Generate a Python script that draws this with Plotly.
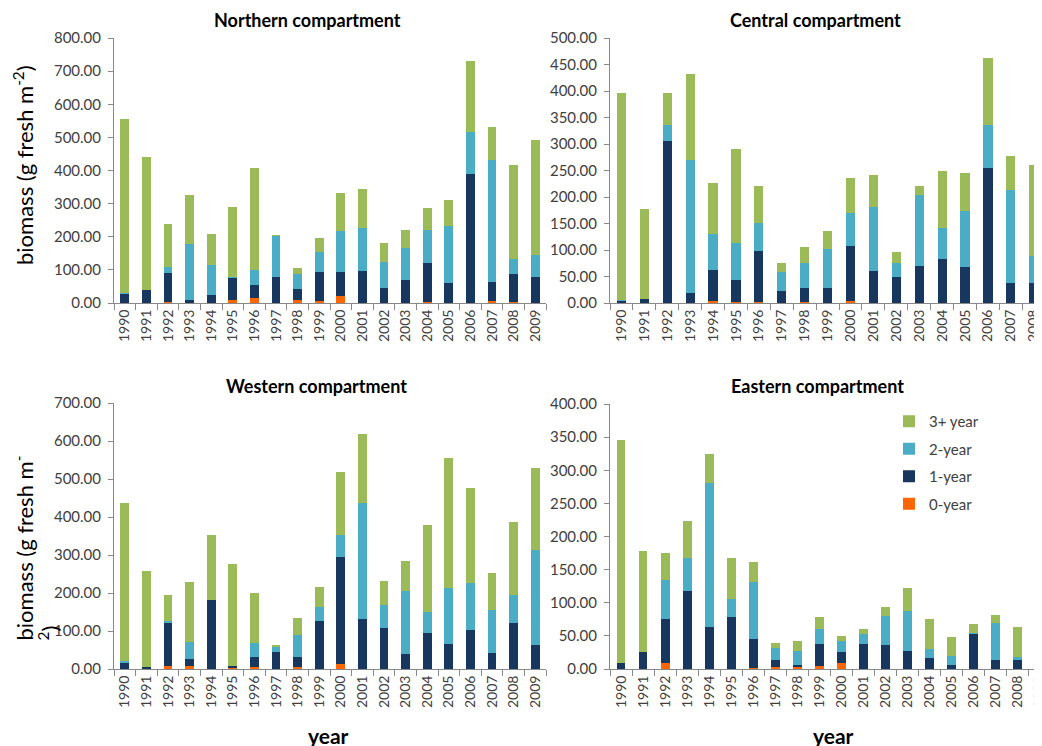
import plotly.graph_objects as go

years = [str(y) for y in range(1990, 2010)]
years_central = years[:19]

series_names = ["0-year", "1-year", "2-year", "3+ year"]
series_colors = ["#FF6600", "#17375E", "#4BACC6", "#9BBB59"]

# Northern compartment
north_0 = [0, 0, 2, 0, 0, 9, 16, 0, 8, 5, 20, 0, 0, 0, 3, 0, 0, 5, 3, 0]
north_1 = [28, 40, 88, 10, 25, 68, 38, 79, 35, 89, 74, 97, 46, 70, 119, 61, 390, 59, 86, 78]
north_2 = [1, 0, 19, 169, 89, 1, 46, 124, 46, 60, 122, 130, 78, 96, 98, 170, 125, 369, 45, 66]
north_3 = [525, 400, 131, 146, 93, 212, 307, 2, 16, 43, 116, 118, 57, 53, 66, 79, 216, 98, 284, 349]

# Central compartment (2009 lies outside the picture)
central_0 = [0, 0, 0, 0, 3, 1, 1, 0, 1, 0, 4, 0, 0, 0, 0, 0, 0, 0, 0]
central_1 = [5, 8, 305, 18, 60, 42, 97, 22, 28, 28, 104, 60, 50, 70, 83, 68, 255, 37, 37]
central_2 = [1, 0, 30, 252, 68, 70, 53, 37, 47, 73, 62, 121, 25, 133, 59, 105, 81, 177, 51]
central_3 = [391, 169, 61, 163, 95, 177, 70, 16, 30, 35, 65, 60, 21, 18, 108, 73, 127, 63, 172]

# Western compartment
west_0 = [0, 0, 7, 8, 0, 4, 6, 0, 4, 0, 13, 0, 0, 0, 0, 0, 0, 0, 0, 0]
west_1 = [18, 6, 114, 19, 182, 3, 26, 46, 28, 126, 283, 132, 108, 39, 96, 66, 103, 41, 121, 62]
west_2 = [2, 0, 6, 45, 0, 0, 36, 12, 58, 37, 56, 305, 61, 165, 55, 146, 123, 114, 74, 252]
west_3 = [417, 251, 69, 157, 170, 269, 132, 3, 44, 52, 167, 182, 63, 81, 229, 343, 251, 97, 192, 215]

# Eastern compartment
east_0 = [0, 0, 9, 0, 0, 0, 2, 3, 2.5, 5, 9, 0, 0, 0, 0, 0, 0, 0, 0, 0]
east_1 = [9, 25, 67, 118, 64, 79, 43, 10, 4, 33, 17, 38, 36, 27, 17, 5.5, 53, 14, 13, 13]
east_2 = [0, 0, 59, 49, 217, 27, 87, 19, 20.5, 23, 16, 15, 44, 60, 13, 13.5, 1, 56, 5, 12]
east_3 = [336, 153, 40, 57, 43, 61, 30, 7, 16, 17, 8, 8, 14, 36, 45, 30, 14, 11, 46, 85]

W, H = 1042, 746
OFF = 8  # page body margin
FONT = "Lato"
AXIS = "#898989"
TICK = "#404040"


def px(x):
    return (x - OFF) / W


def py(y):
    return 1 - (y - OFF) / H


panels = [
    # name, x-cats, series, x px range, y px range, ymax, dtick, xmax
    ("Northern compartment", years, [north_0, north_1, north_2, north_3], (114, 546), (38, 303), 800, 100, 19.5),
    ("Central compartment", years_central, [central_0, central_1, central_2, central_3], (610, 1042), (38, 303), 500, 50, 18.36),
    ("Western compartment", years, [west_0, west_1, west_2, west_3], (114, 546), (403, 669), 700, 100, 19.5),
    ("Eastern compartment", years, [east_0, east_1, east_2, east_3], (610, 1042), (404, 669), 400, 50, 19.1),
]

fig = go.Figure()
title_pos = [(307, 20), (815, 20), (316, 386), (817, 386)]

for i, (name, cats, data, (x0, x1), (y0, y1), ymax, dtick, xmax) in enumerate(panels):
    n = "" if i == 0 else str(i + 1)
    for k in range(4):
        fig.add_trace(go.Bar(
            x=cats, y=data[k], name=series_names[k],
            marker=dict(color=series_colors[k], line=dict(width=0)),
            width=0.4, xaxis="x" + n, yaxis="y" + n,
            showlegend=(i == 3), legendgroup=series_names[k], legendrank=10 - k,
        ))
    fig.layout["xaxis" + n] = dict(
        domain=[px(x0), px(x1)], anchor="y" + n, type="category",
        range=[-0.5, xmax], showline=True, linecolor=AXIS, linewidth=1,
        ticks="outside", tickson="boundaries", ticklen=6, tickcolor=AXIS,
        tickangle=-90, tickfont=dict(family=FONT, size=14, color=TICK),
        showgrid=False, zeroline=False, automargin=False,
    )
    fig.layout["yaxis" + n] = dict(
        domain=[py(y1), py(y0)], anchor="x" + n,
        range=[0, ymax], dtick=dtick, tickformat=".2f",
        showline=True, linecolor=AXIS, linewidth=1,
        ticks="outside", ticklen=5, tickcolor=AXIS, ticklabelstandoff=4,
        tickfont=dict(family=FONT, size=15, color=TICK),
        showgrid=False, zeroline=False, automargin=False,
    )
    tx, ty = title_pos[i]
    fig.add_annotation(text="<b>" + name + "</b>", x=px(tx), y=py(ty),
                       xref="paper", yref="paper", showarrow=False,
                       xanchor="center", yanchor="middle",
                       font=dict(family=FONT, size=18, color="#000000"))

# y axis titles
fig.add_annotation(text="biomass (g fresh m<sup>-2</sup>)", x=px(23), y=py(165),
                   xref="paper", yref="paper", showarrow=False, textangle=-90,
                   xanchor="center", yanchor="middle",
                   font=dict(family=FONT, size=22, color="#000000"))
fig.add_annotation(text="biomass (g fresh m<sup>-</sup>", x=px(23), y=py(643),
                   xref="paper", yref="paper", showarrow=False, textangle=-90,
                   xanchor="center", yanchor="bottom",
                   font=dict(family=FONT, size=22, color="#000000"))
fig.add_annotation(text="<sup>2</sup>)", x=px(48), y=py(643),
                   xref="paper", yref="paper", showarrow=False, textangle=-90,
                   xanchor="center", yanchor="bottom",
                   font=dict(family=FONT, size=22, color="#000000"))

# x axis titles
for xx in (328, 833):
    fig.add_annotation(text="<b>year</b>", x=px(xx), y=py(735),
                       xref="paper", yref="paper", showarrow=False,
                       xanchor="center", yanchor="middle",
                       font=dict(family=FONT, size=21, color="#000000"))

fig.update_layout(
    width=W, height=H, barmode="stack",
    margin=dict(l=0, r=0, t=0, b=0, autoexpand=False),
    paper_bgcolor="white", plot_bgcolor="white",
    legend=dict(x=px(889), y=py(405), xanchor="left", yanchor="top",
                traceorder="grouped", tracegroupgap=5,
                font=dict(family=FONT, size=15, color=TICK),
                bgcolor="rgba(0,0,0,0)", itemwidth=30),
)

fig.write_html("out.html")
